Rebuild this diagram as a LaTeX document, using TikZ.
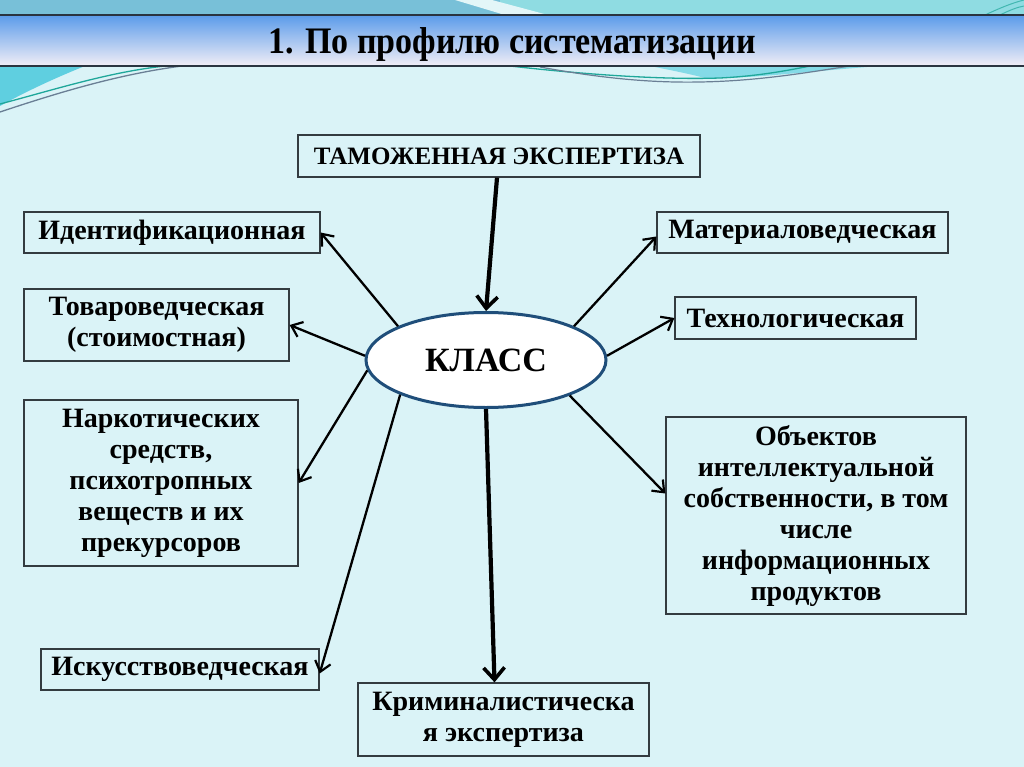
\documentclass[tikz,border=0pt]{standalone}
\usepackage{fontspec}
\setmainfont{Liberation Serif}
\usetikzlibrary{arrows.meta,shapes.geometric}
\definecolor{bg}{HTML}{DAF3F7}
\definecolor{stripL}{HTML}{78C0D8}
\definecolor{stripR}{HTML}{8FDCE2}
\definecolor{bandtop}{HTML}{5A9BEA}
\definecolor{bandmid}{HTML}{B3CEF2}
\definecolor{bandbot}{HTML}{F2EEF6}
\definecolor{bandline}{HTML}{2A3440}
\definecolor{tealw}{HTML}{5FCFE0}
\definecolor{tealln}{HTML}{1FA79A}
\definecolor{grayln}{HTML}{6A7F95}
\definecolor{boxline}{HTML}{333B40}
\definecolor{ellline}{HTML}{1F4E7A}
\tikzset{
  box/.style={draw=boxline, line width=1.3pt, inner sep=0pt, align=center,
    font=\bfseries\fontsize{28}{31}\selectfont},
  arr/.style={draw=black, line width=2.3pt, -{Straight Barb[length=10pt,width=16pt,line width=2.2pt]}},
  bigarr/.style={draw=black, line width=4.2pt, -{Straight Barb[length=12pt,width=21pt,line width=3.6pt]}}
}
\begin{document}
\begin{tikzpicture}[x=1pt,y=-1pt]
\useasboundingbox (0,0) rectangle (1024,767);
\fill[bg] (0,0) rectangle (1024,767);
% top strip
\fill[stripL] (0,0) rectangle (1024,15);
\fill[stripR] (500,0) rectangle (1024,15);
\fill[white!75!stripR] (455,0) -- (492,0) -- (548,15) -- (505,15) -- cycle;
\draw[tealln!70!stripR, line width=1pt] (985,15) .. controls (1000,8) and (1012,3) .. (1024,0);
\draw[tealln!70!stripR, line width=1pt] (1000,15) .. controls (1010,10) and (1018,7) .. (1024,6);
% decorations under the band
\fill[tealw] (0,66) -- (85,66) .. controls (55,78) and (25,92) .. (0,106) -- cycle;
\draw[tealln, line width=1.3pt] (0,104) .. controls (60,88) and (110,72) .. (165,66);
\draw[grayln, line width=1.3pt] (0,112) .. controls (60,92) and (120,74) .. (182,66);
\fill[tealw!70!bg] (650,66) -- (880,66) .. controls (800,72) and (750,79) .. (705,78) .. controls (690,74) and (670,70) .. (650,66) -- cycle;
\draw[tealln, line width=1.3pt] (510,66) .. controls (580,74) and (660,80) .. (720,78) .. controls (760,76) and (790,70) .. (810,66);
\draw[grayln, line width=1.2pt] (540,67) .. controls (600,78) and (650,83) .. (700,82) .. controls (760,81) and (810,72) .. (850,66);
% title band
\shade[top color=bandtop, middle color=bandmid, bottom color=bandbot] (0,15) rectangle (1024,66);
\draw[bandline, line width=1.6pt] (0,15) -- (1024,15);
\draw[bandline, line width=2pt] (0,66) -- (1024,66);
\node[font=\bfseries\fontsize{34}{36}\selectfont, inner sep=0pt] (title) at (512,45) {\scalebox{1.0}[1.1]{1. По профилю систематизации}};
% nodes
\node[box, minimum width=402pt, minimum height=42pt, font=\bfseries\fontsize{25}{28}\selectfont] (tam) at (499,156) {ТАМОЖЕННАЯ ЭКСПЕРТИЗА};
\node[box, minimum width=296pt, minimum height=41pt] (ident) at (172,232.5) {Идентификационная};
\node[box, minimum width=265pt, minimum height=72pt] (tovar) at (156.5,325) {Товароведческая\\(стоимостная)};
\node[box, minimum width=274pt, minimum height=166pt] (nark) at (161,483) {Наркотических\\средств,\\психотропных\\веществ и их\\прекурсоров};
\node[box, minimum width=278pt, minimum height=41pt] (iskus) at (180,669.5) {Искусствоведческая};
\node[box, minimum width=291pt, minimum height=73pt] (krim) at (503.5,719.5) {Криминалистическа\\я экспертиза};
\node[box, minimum width=291pt, minimum height=41pt] (mat) at (802.5,232.5) {Материаловедческая};
\node[box, minimum width=241pt, minimum height=42pt] (tech) at (795.5,318) {Технологическая};
\node[box, minimum width=300pt, minimum height=197pt] (obj) at (816,515.5) {Объектов\\интеллектуальной\\собственности, в том\\числе\\информационных\\продуктов};
\node[ellipse, draw=ellline, line width=3pt, fill=white, minimum width=240pt, minimum height=95pt, inner sep=0pt,
  font=\bfseries\fontsize{34}{38}\selectfont] (cls) at (486,360) {КЛАСС};
% connectors
\draw[bigarr] ([xshift=-2pt]tam.south) -- (cls.north);
\draw[bigarr] (cls.south) -- ([xshift=-9pt]krim.north);
\draw[arr] (cls.159) -- (ident.east);
\draw[arr] (cls.178) -- (tovar.east);
\draw[arr] (cls.185) -- (nark.east);
\draw[arr] (cls.202) -- ([yshift=-4pt]iskus.east);
\draw[arr] (cls.21) -- ([yshift=-4pt]mat.west);
\draw[arr] (cls.2) -- (tech.west);
\draw[arr] (cls.337) -- ([yshift=22pt]obj.west);
\end{tikzpicture}
\end{document}
